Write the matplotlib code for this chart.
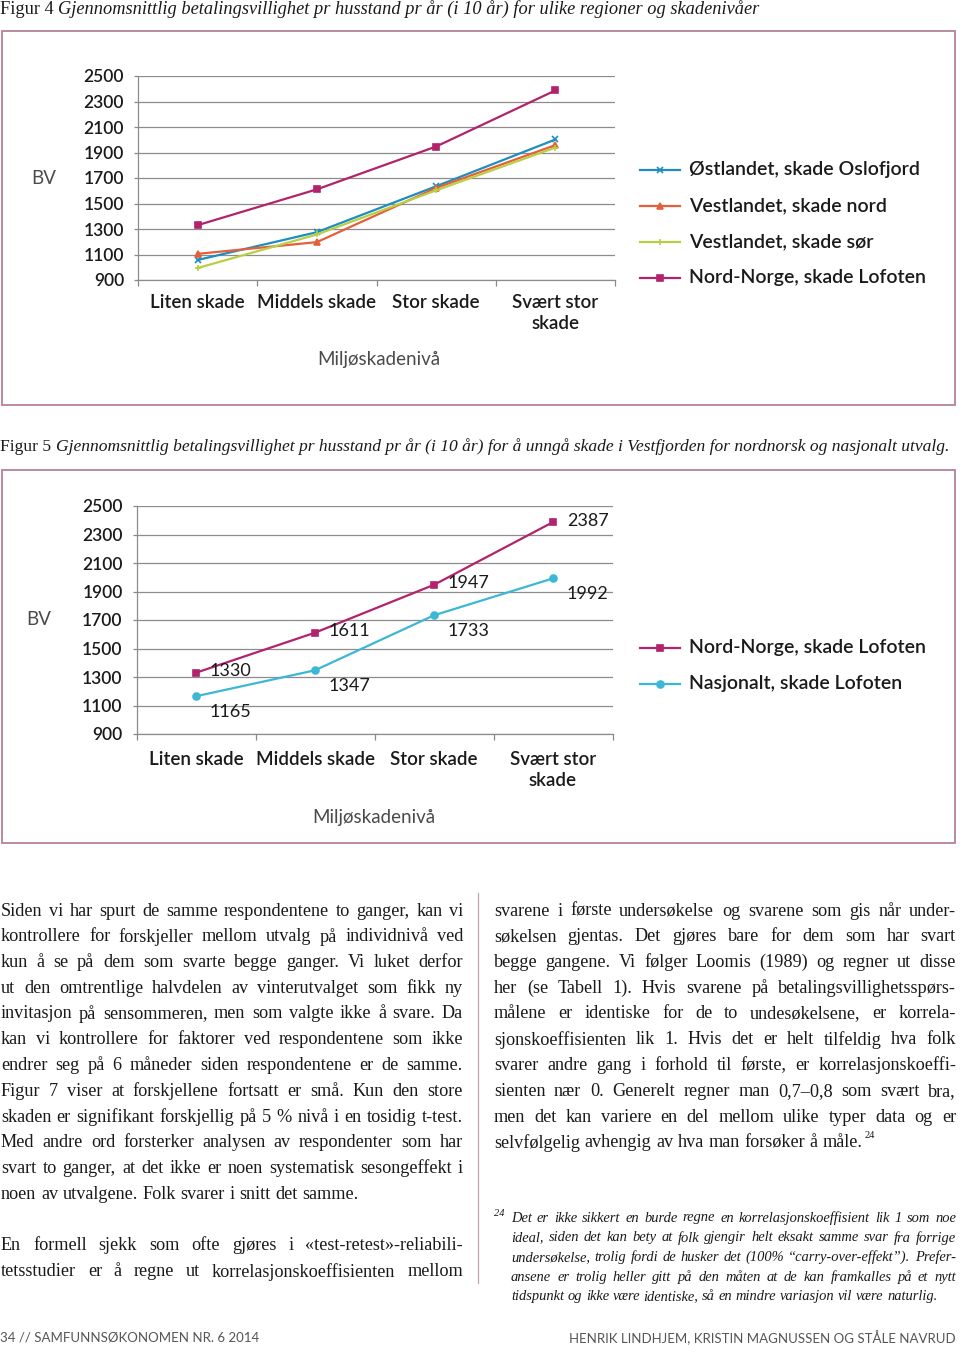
import matplotlib
matplotlib.use('Agg')
import matplotlib.pyplot as plt
from matplotlib.lines import Line2D
from matplotlib.patches import Rectangle

W, H = 960, 1345

# ---- data ----
categories = ['Liten skade', 'Middels skade', 'Stor skade', 'Svært stor\nskade']
yticks = [900, 1100, 1300, 1500, 1700, 1900, 2100, 2300, 2500]

fig4_names = ['Østlandet, skade Oslofjord', 'Vestlandet, skade nord',
              'Vestlandet, skade sør', 'Nord-Norge, skade Lofoten']
ostlandet = [1057, 1275, 1635, 2002]
vest_nord = [1105, 1197, 1622, 1958]
vest_sor = [994, 1257, 1603, 1939]
nord_norge = [1330, 1611, 1947, 2387]

fig5_names = ['Nord-Norge, skade Lofoten', 'Nasjonalt, skade Lofoten']
nasjonalt = [1165, 1347, 1733, 1992]

fig4_colors = ['#1f8dc0', '#e2603a', '#b9cf43', '#b3226d']
fig4_markers = ['x', '^', '+', 's']
fig5_colors = ['#b3226d', '#3cb8d4']
fig5_markers = ['s', 'o']

SANS = 'Lato'
SERIF = 'Liberation Serif'

fig = plt.figure(figsize=(W / 100, H / 100), dpi=100)
fig.patch.set_facecolor('white')
renderer = fig.canvas.get_renderer()


def fx(x):
    return x / W


def fy(y):
    return 1 - y / H


def measure(s, **kw):
    t = fig.text(0, 0, s, **kw)
    w = t.get_window_extent(renderer).width
    t.remove()
    return w


def make_chart(x0, x1, ytop, ybot, series, colors, markers, label_pad):
    ax = fig.add_axes([fx(x0), fy(ybot), (x1 - x0) / W, (ybot - ytop) / H])
    xs = list(range(len(categories)))
    for vals, c, m in zip(series, colors, markers):
        ax.plot(xs, vals, color=c, lw=1.6, marker=m, ms=5, mew=1.2,
                mfc=c, mec=c, zorder=3)
    ax.set_xlim(-0.5, len(categories) - 0.5)
    ax.set_ylim(yticks[0], yticks[-1])
    ax.set_yticks(yticks)
    ax.set_yticklabels([str(v) for v in yticks], fontsize=12.5,
                       family=SANS, weight='semibold', color='#1a1a1a')
    ax.set_xticks(xs)
    ax.set_xticklabels(categories, fontsize=13.5, family=SANS,
                       weight='semibold', color='#1a1a1a', linespacing=1.3)
    ax.set_xticks([i - 0.5 for i in range(len(categories) + 1)], minor=True)
    ax.tick_params(axis='x', which='major', length=0, pad=label_pad)
    ax.tick_params(axis='x', which='minor', length=4, color='#888888', width=0.9)
    ax.tick_params(axis='y', length=3, color='#888888', width=0.9, pad=7)
    ax.grid(True, axis='y', color='#8c8c8c', lw=0.9)
    ax.set_axisbelow(True)
    for s in ['top', 'right']:
        ax.spines[s].set_visible(False)
    for s in ['left', 'bottom']:
        ax.spines[s].set_color('#8c8c8c')
        ax.spines[s].set_linewidth(0.9)
    ax.patch.set_alpha(0)
    return ax


def legend(x0, ys, names, colors, markers):
    for y, n, c, m in zip(ys, names, colors, markers):
        fig.add_artist(Line2D([fx(x0), fx(x0 + 20), fx(x0 + 40)], [fy(y)] * 3,
                              transform=fig.transFigure, color=c, lw=1.6,
                              marker=m, ms=5, mew=1.2, mfc=c, mec=c,
                              markevery=[1]))
        fig.text(fx(x0 + 49), fy(y), n, fontsize=14, family=SANS,
                 weight='semibold', color='#1a1a1a', va='center', ha='left')


def box(y0, y1):
    fig.add_artist(Rectangle((fx(1.5), fy(y1)), (955 - 1.5) / W, (y1 - y0) / H,
                             transform=fig.transFigure, fill=False,
                             ec='#b5809a', lw=1.3))


def caption(y, num, rest, xmax):
    size = 13.2
    w = measure(num + ' ', fontsize=size, family=SERIF) + \
        measure(rest, fontsize=size, family=SERIF, style='italic')
    if w > xmax:
        size *= xmax / w
    w1 = measure(num + ' ', fontsize=size, family=SERIF)
    fig.text(0, fy(y), num + ' ', fontsize=size, family=SERIF, color='#1a1a1a',
             va='center', ha='left')
    fig.text(fx(w1), fy(y), rest, fontsize=size, family=SERIF, style='italic',
             color='#1a1a1a', va='center', ha='left')


def light_label(x, y, s):
    fig.text(fx(x), fy(y), s, fontsize=13.5, family=SANS, weight='normal',
             color='#4a4a4a', ha='center', va='center')


# ---- Figur 4 ----
caption(9, 'Figur 4', 'Gjennomsnittlig betalingsvillighet pr husstand pr år '
        '(i 10 år) for ulike regioner og skadenivåer', 955)
box(31, 405)
make_chart(138, 615, 76, 280, [ostlandet, vest_nord, vest_sor, nord_norge],
           fig4_colors, fig4_markers, 10)
light_label(44, 178, 'BV')
light_label(379, 360, 'Miljøskadenivå')
legend(640, [170, 206, 242, 278], fig4_names, fig4_colors, fig4_markers)

# ---- Figur 5 ----
caption(447, 'Figur 5', 'Gjennomsnittlig betalingsvillighet pr husstand pr år '
        '(i 10 år) for å unngå skade i Vestfjorden for nordnorsk og nasjonalt '
        'utvalg.', 955)
box(470, 843)
ax2 = make_chart(136.5, 612.5, 506, 734, [nord_norge, nasjonalt],
                 fig5_colors, fig5_markers, 12)
for i, v in enumerate(nord_norge):
    ax2.annotate(str(v), (i, v), xytext=(10, 1), textcoords='offset points',
                 fontsize=13, family=SANS, color='#1a1a1a', va='center',
                 ha='left')
for i, v in enumerate(nasjonalt):
    ax2.annotate(str(v), (i, v), xytext=(10, -11), textcoords='offset points',
                 fontsize=13, family=SANS, color='#1a1a1a', va='center',
                 ha='left')
light_label(39, 620, 'BV')
light_label(374, 817, 'Miljøskadenivå')
legend(640, [648, 684], fig5_names, fig5_colors, fig5_markers)

# ---- body text ----
col1_p1 = [
    'Siden vi har spurt de samme respondentene to ganger, kan vi',
    'kontrollere for forskjeller mellom utvalg på individnivå ved',
    'kun å se på dem som svarte begge ganger. Vi luket derfor',
    'ut den omtrentlige halvdelen av vinterutvalget som fikk ny',
    'invitasjon på sensommeren, men som valgte ikke å svare. Da',
    'kan vi kontrollere for faktorer ved respondentene som ikke',
    'endrer seg på 6 måneder siden respondentene er de samme.',
    'Figur 7 viser at forskjellene fortsatt er små. Kun den store',
    'skaden er signifikant forskjellig på 5 % nivå i en tosidig t-test.',
    'Med andre ord forsterker analysen av respondenter som har',
    'svart to ganger, at det ikke er noen systematisk sesongeffekt i',
    'noen av utvalgene. Folk svarer i snitt det samme.',
]
col1_p2 = [
    'En formell sjekk som ofte gjøres i «test-retest»-reliabili-',
    'tetsstudier er å regne ut korrelasjonskoeffisienten mellom',
]
col2_p1 = [
    'svarene i første undersøkelse og svarene som gis når under-',
    'søkelsen gjentas. Det gjøres bare for dem som har svart',
    'begge gangene. Vi følger Loomis (1989) og regner ut disse',
    'her (se Tabell 1). Hvis svarene på betalingsvillighetsspørs-',
    'målene er identiske for de to undesøkelsene, er korrela-',
    'sjonskoeffisienten lik 1. Hvis det er helt tilfeldig hva folk',
    'svarer andre gang i forhold til første, er korrelasjonskoeffi-',
    'sienten nær 0. Generelt regner man 0,7–0,8 som svært bra,',
    'men det kan variere en del mellom ulike typer data og er',
    'selvfølgelig avhengig av hva man forsøker å måle.',
]
footnote = [
    'Det er ikke sikkert en burde regne en korrelasjonskoeffisient lik 1 som noe',
    'ideal, siden det kan bety at folk gjengir helt eksakt samme svar fra forrige',
    'undersøkelse, trolig fordi de husker det (100% “carry-over-effekt”). Prefer-',
    'ansene er trolig heller gitt på den måten at de kan framkalles på et nytt',
    'tidspunkt og ikke være identiske, så en mindre variasjon vil være naturlig.',
]


def fit_size(lines, width, size, style='normal'):
    widest = max(measure(l, fontsize=size, family=SERIF, style=style)
                 for l in lines)
    return min(size, size * width * 0.99 / widest)


def paragraph(lines, x0, x1, y0, dy, size, style='normal', last_full=False):
    kw = dict(family=SERIF, style=style)
    sp = measure('a a', fontsize=size, **kw) - measure('aa', fontsize=size, **kw)
    end = x0
    for k, line in enumerate(lines):
        y = y0 + k * dy
        words = line.split(' ')
        widths = [measure(w, fontsize=size, **kw) for w in words]
        last = (k == len(lines) - 1) and not last_full
        gap = sp if last or len(words) < 2 else \
            (x1 - x0 - sum(widths)) / (len(words) - 1)
        x = x0
        for w, wd in zip(words, widths):
            fig.text(fx(x), fy(y), w, fontsize=size, color='#1a1a1a',
                     va='center', ha='left', **kw)
            x += wd + gap
        end = x - gap
    return end


body_size = fit_size(col1_p1 + col1_p2 + col2_p1, 462, 15)
paragraph(col1_p1, 1, 463, 911, 25.75, body_size)
paragraph(col1_p2, 1, 463, 1246, 25.75, body_size, last_full=True)
xe = paragraph(col2_p1, 494, 956, 911, 25.75, body_size)
fig.text(fx(xe + 2), fy(1136), '24', fontsize=7.5, family=SERIF,
         color='#1a1a1a', va='center', ha='left')

fig.text(fx(494), fy(1213), '24', fontsize=7.5, family=SERIF, style='italic',
         color='#1a1a1a', va='center', ha='left')
foot_size = fit_size(footnote, 445, 12, style='italic')
paragraph(footnote, 511, 956, 1218, 19.7, foot_size, style='italic')

# column divider
fig.add_artist(Line2D([fx(478), fx(478)], [fy(893), fy(1283)],
                      transform=fig.transFigure, color='#c4a3b1', lw=0.9))

# ---- footer ----
fig.text(0, fy(1338), '34 // SAMFUNNSØKONOMEN NR. 6 2014', fontsize=9.5,
         family=SANS, color='#555555', va='center', ha='left')
fig.text(fx(956), fy(1338), 'HENRIK LINDHJEM, KRISTIN MAGNUSSEN OG STÅLE NAVRUD',
         fontsize=9.5, family=SANS, color='#555555', va='center', ha='right')

fig.savefig('out.png', dpi=100, facecolor='white')
